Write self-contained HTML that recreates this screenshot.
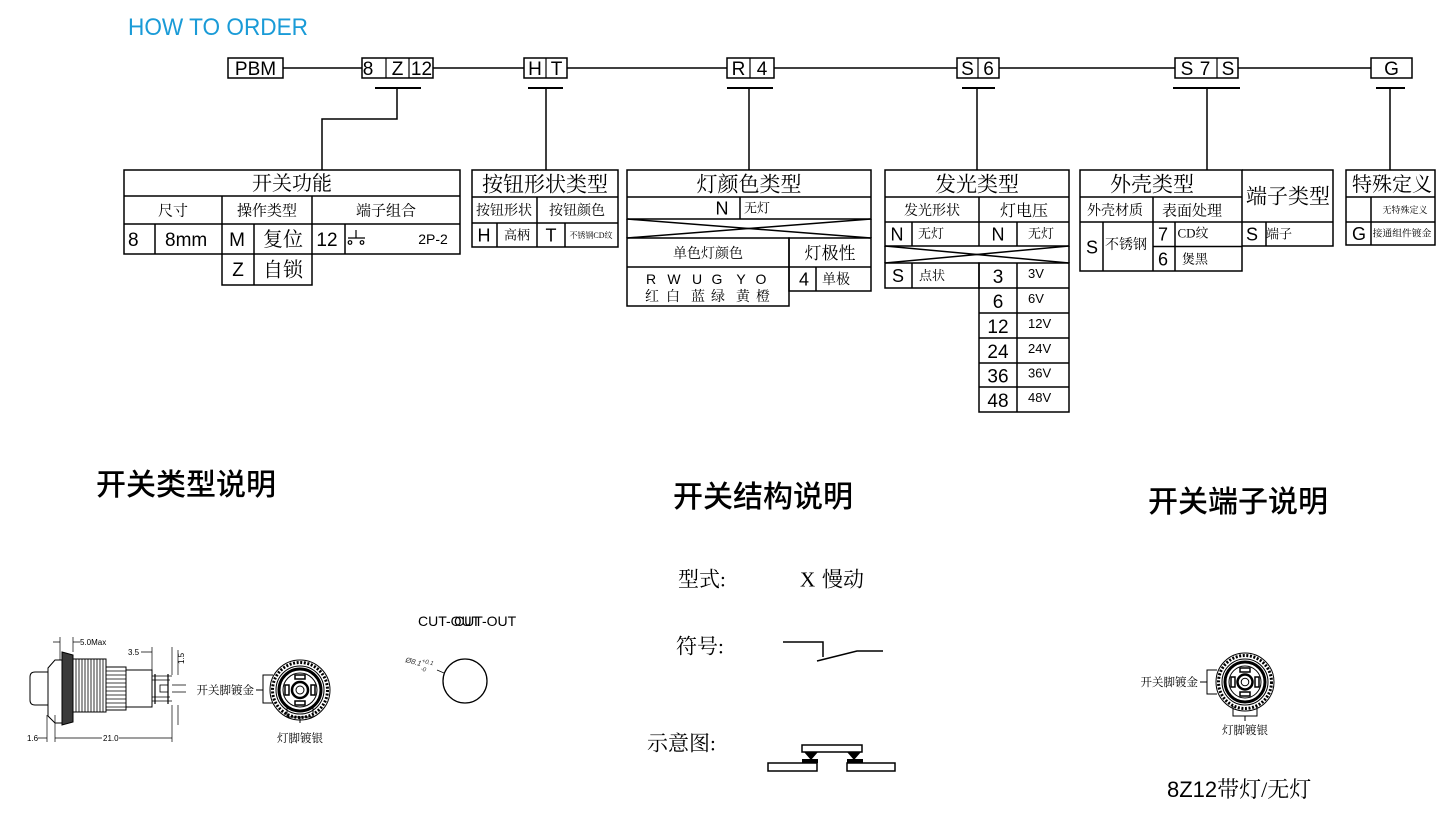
<!DOCTYPE html>
<html><head><meta charset="utf-8"><style>
html,body{margin:0;padding:0;background:#fff;}
svg{display:block;}
.s{font-family:"Liberation Sans",Arial,sans-serif;}
.c{font-family:"Liberation Serif","Noto Serif CJK SC",serif;}
.h{font-family:"Liberation Sans","Noto Sans CJK SC",sans-serif;}
</style></head><body>
<svg width="1448" height="821" viewBox="0 0 1448 821" xmlns="http://www.w3.org/2000/svg">
<rect width="1448" height="821" fill="#fff"/>
<text x="128" y="35" font-size="24" fill="#1a9bd7" class="s" textLength="180" lengthAdjust="spacingAndGlyphs">HOW TO ORDER</text>

<!-- main line -->
<g stroke="#000" stroke-width="1.5" fill="none">
<line x1="283" y1="68" x2="1371" y2="68"/>
</g>
<!-- code boxes -->
<g stroke="#000" stroke-width="1.5" fill="#fff">
<rect x="228" y="58" width="55" height="20"/>
<rect x="362" y="58" width="71" height="20"/>
<rect x="524" y="58" width="43" height="20"/>
<rect x="727" y="58" width="47" height="20"/>
<rect x="957" y="58" width="42" height="20"/>
<rect x="1175" y="58" width="63" height="20"/>
<rect x="1371" y="58" width="41" height="20"/>
</g>
<g stroke="#000" stroke-width="1.2">
<line x1="386" y1="58" x2="386" y2="78"/>
<line x1="409" y1="58" x2="409" y2="78"/>
<line x1="546" y1="58" x2="546" y2="78"/>
<line x1="750" y1="58" x2="750" y2="78"/>
<line x1="978" y1="58" x2="978" y2="78"/>
<line x1="1217" y1="58" x2="1217" y2="78"/>
</g>
<g class="s" font-size="19" text-anchor="middle">
<text x="255.5" y="75">PBM</text>
<text x="368" y="75">8</text><text x="397.5" y="75">Z</text><text x="421.5" y="75">12</text>
<text x="535" y="75">H</text><text x="556.5" y="75">T</text>
<text x="738.5" y="75">R</text><text x="762" y="75">4</text>
<text x="967.5" y="75">S</text><text x="988.5" y="75">6</text>
<text x="1187" y="75">S</text><text x="1205" y="75">7</text><text x="1228" y="75">S</text>
<text x="1391.5" y="75">G</text>
</g>

<!-- connectors -->
<g stroke="#000" fill="none">
<g stroke-width="2">
<line x1="375" y1="88" x2="421" y2="88"/>
<line x1="528" y1="88" x2="563" y2="88"/>
<line x1="727" y1="88" x2="773" y2="88"/>
<line x1="962" y1="88" x2="995" y2="88"/>
<line x1="1173" y1="88" x2="1240" y2="88"/>
<line x1="1376" y1="88" x2="1405" y2="88"/>
</g>
<g stroke-width="1.5">
<path d="M397 88 V119 H322 V170"/>
<line x1="546" y1="88" x2="546" y2="170"/>
<line x1="749" y1="88" x2="749" y2="170"/>
<line x1="977" y1="88" x2="977" y2="170"/>
<line x1="1207" y1="88" x2="1207" y2="170"/>
<line x1="1390" y1="88" x2="1390" y2="170"/>
</g>
</g>

<!-- tables -->
<g stroke="#000" stroke-width="1.5" fill="none">
<!-- T1 -->
<rect x="124" y="170" width="336" height="84"/>
<line x1="124" y1="196" x2="460" y2="196"/>
<line x1="124" y1="224" x2="460" y2="224"/>
<line x1="222" y1="196" x2="222" y2="254"/>
<line x1="312" y1="196" x2="312" y2="254"/>
<line x1="155" y1="224" x2="155" y2="254"/>
<line x1="254" y1="224" x2="254" y2="285"/>
<line x1="345" y1="224" x2="345" y2="254"/>
<path d="M222 254 V285 H312 V254"/>
<!-- T2 -->
<rect x="472" y="170" width="146" height="77"/>
<line x1="472" y1="197" x2="618" y2="197"/>
<line x1="472" y1="223" x2="618" y2="223"/>
<line x1="537" y1="197" x2="537" y2="247"/>
<line x1="497" y1="223" x2="497" y2="247"/>
<line x1="565" y1="223" x2="565" y2="247"/>
<!-- T3 -->
<rect x="627" y="170" width="244" height="49"/>
<line x1="627" y1="197" x2="871" y2="197"/>
<line x1="740" y1="197" x2="740" y2="219"/>
<line x1="627" y1="219" x2="871" y2="238"/>
<line x1="871" y1="219" x2="627" y2="238"/>
<line x1="627" y1="219" x2="627" y2="238"/>
<line x1="871" y1="219" x2="871" y2="238"/>
<rect x="627" y="238" width="162" height="68"/>
<line x1="627" y1="267" x2="789" y2="267"/>
<rect x="789" y="238" width="82" height="53"/>
<line x1="789" y1="267" x2="871" y2="267"/>
<line x1="816" y1="267" x2="816" y2="291"/>
<!-- T4 -->
<rect x="885" y="170" width="184" height="76"/>
<line x1="885" y1="197" x2="1069" y2="197"/>
<line x1="885" y1="222" x2="1069" y2="222"/>
<line x1="979" y1="197" x2="979" y2="246"/>
<line x1="912" y1="222" x2="912" y2="246"/>
<line x1="1017" y1="222" x2="1017" y2="246"/>
<line x1="885" y1="246" x2="1069" y2="263"/>
<line x1="1069" y1="246" x2="885" y2="263"/>
<line x1="1069" y1="246" x2="1069" y2="263"/>
<line x1="885" y1="246" x2="885" y2="263"/>
<rect x="885" y="263" width="94" height="25"/>
<line x1="912" y1="263" x2="912" y2="288"/>
<rect x="979" y="263" width="90" height="149"/>
<line x1="979" y1="288" x2="1069" y2="288"/>
<line x1="979" y1="313" x2="1069" y2="313"/>
<line x1="979" y1="338" x2="1069" y2="338"/>
<line x1="979" y1="363" x2="1069" y2="363"/>
<line x1="979" y1="387" x2="1069" y2="387"/>
<line x1="1017" y1="263" x2="1017" y2="412"/>
<!-- T5 -->
<rect x="1080" y="170" width="162" height="101"/>
<line x1="1080" y1="197" x2="1242" y2="197"/>
<line x1="1080" y1="222" x2="1333" y2="222"/>
<line x1="1153" y1="197" x2="1153" y2="271"/>
<line x1="1103" y1="222" x2="1103" y2="271"/>
<line x1="1175" y1="222" x2="1175" y2="271"/>
<line x1="1153" y1="246.5" x2="1242" y2="246.5"/>
<path d="M1242 170 H1333 V246 H1242"/>
<line x1="1266" y1="222" x2="1266" y2="246"/>
<!-- T6 -->
<rect x="1346" y="170" width="89" height="75"/>
<line x1="1346" y1="197" x2="1435" y2="197"/>
<line x1="1346" y1="222" x2="1435" y2="222"/>
<line x1="1371" y1="197" x2="1371" y2="245"/>
</g>

<!-- T1 text -->
<g class="c" text-anchor="middle">
<text x="292" y="190" font-size="20">开关功能</text>
<text x="173" y="215.4" font-size="15">尺寸</text>
<text x="267" y="215.4" font-size="15">操作类型</text>
<text x="386" y="215.4" font-size="15">端子组合</text>
<text x="283" y="246" font-size="20">复位</text>
<text x="283" y="276.5" font-size="20">自锁</text>
</g>
<g class="s" font-size="19">
<text x="128" y="246">8</text>
<text x="165" y="246">8mm</text>
<text x="237" y="246" text-anchor="middle">M</text>
<text x="327" y="246" text-anchor="middle">12</text>
<text x="238" y="276" text-anchor="middle">Z</text>
<text x="433" y="244" text-anchor="middle" font-size="14">2P-2</text>
</g>
<g stroke="#000" stroke-width="1.2" fill="none">
<line x1="356" y1="230" x2="356" y2="238"/>
<line x1="348" y1="238" x2="365" y2="238"/>
<circle cx="350" cy="242.5" r="1.8"/>
<circle cx="362" cy="242.5" r="1.8"/>
</g>

<!-- T2 text -->
<g class="c" text-anchor="middle">
<text x="545" y="191.6" font-size="21">按钮形状类型</text>
<text x="504" y="215" font-size="14">按钮形状</text>
<text x="577" y="215" font-size="14">按钮颜色</text>
<text x="517" y="239.7" font-size="13">高柄</text>
<text x="591" y="238" font-size="8">不锈钢CD纹</text>
</g>
<g class="s" font-size="18" text-anchor="middle">
<text x="484" y="241.5">H</text>
<text x="551" y="241.5">T</text>
</g>

<!-- T3 text -->
<g class="c" text-anchor="middle">
<text x="749" y="191.6" font-size="21">灯颜色类型</text>
<text x="757" y="212.7" font-size="13">无灯</text>
<text x="708" y="258" font-size="14">单色灯颜色</text>
<text x="830" y="259" font-size="17">灯极性</text>
<text x="836" y="284" font-size="14">单极</text>
<g font-size="14">
<text x="652" y="301">红</text><text x="673" y="301">白</text><text x="698" y="301">蓝</text>
<text x="718" y="301">绿</text><text x="743" y="301">黄</text><text x="763" y="301">橙</text>
</g>
</g>
<g class="s" text-anchor="middle">
<text x="722" y="214.5" font-size="18">N</text>
<text x="804" y="285.5" font-size="18">4</text>
<g font-size="14">
<text x="651" y="284">R</text><text x="674" y="284">W</text><text x="697" y="284">U</text>
<text x="717" y="284">G</text><text x="741" y="284">Y</text><text x="761" y="284">O</text>
</g>
</g>

<!-- T4 text -->
<g class="c" text-anchor="middle">
<text x="977" y="191.6" font-size="21">发光类型</text>
<text x="932" y="215" font-size="14">发光形状</text>
<text x="1024" y="215.8" font-size="16">灯电压</text>
<text x="931" y="238" font-size="13">无灯</text>
<text x="1041" y="238" font-size="13">无灯</text>
<text x="932" y="280" font-size="13">点状</text>
</g>
<g class="s" text-anchor="middle" font-size="18">
<text x="897" y="240.5">N</text>
<text x="998" y="240.5">N</text>
<text x="898" y="282">S</text>
</g>
<g class="s" text-anchor="middle" font-size="19">
<text x="998" y="283">3</text>
<text x="998" y="308">6</text>
<text x="998" y="333">12</text>
<text x="998" y="358">24</text>
<text x="998" y="382.5">36</text>
<text x="998" y="407">48</text>
</g>
<g class="s" font-size="13">
<text x="1028" y="278">3V</text>
<text x="1028" y="303">6V</text>
<text x="1028" y="328">12V</text>
<text x="1028" y="353">24V</text>
<text x="1028" y="377.5">36V</text>
<text x="1028" y="402">48V</text>
</g>

<!-- T5 text -->
<g class="c" text-anchor="middle">
<text x="1152" y="191.6" font-size="21">外壳类型</text>
<text x="1115" y="215" font-size="14">外壳材质</text>
<text x="1192" y="215.5" font-size="15">表面处理</text>
<text x="1126" y="249" font-size="14">不锈钢</text>
<text x="1193" y="237.7" font-size="13">CD纹</text>
<text x="1195" y="263.7" font-size="13">煲黑</text>
<text x="1288" y="203.6" font-size="21">端子类型</text>
<text x="1279" y="238.7" font-size="13">端子</text>
</g>
<g class="s" text-anchor="middle" font-size="18">
<text x="1092" y="253.5">S</text>
<text x="1163" y="240.5">7</text>
<text x="1163" y="265.5">6</text>
<text x="1252" y="240.5">S</text>
</g>

<!-- T6 text -->
<g class="c" text-anchor="middle">
<text x="1392" y="191" font-size="20">特殊定义</text>
<text x="1405" y="213" font-size="9">无特殊定义</text>
<text x="1402" y="236.5" font-size="9.8">接通组件镀金</text>
</g>
<text x="1359" y="240" class="s" font-size="18" text-anchor="middle">G</text>

<!-- section titles -->
<g class="h" font-size="30" font-weight="500">
<text x="96" y="495">开关类型说明</text>
<text x="673" y="507">开关结构说明</text>
<text x="1148" y="512">开关端子说明</text>
</g>

<!-- structure -->
<g class="c" font-size="21">
<text x="678" y="586.5">型式:</text>
<text x="800" y="586.5">X</text>
<text x="822" y="586.5">慢动</text>
<text x="676" y="653.5">符号:</text>
<text x="647" y="750.5">示意图:</text>
</g>
<g stroke="#000" stroke-width="1.5" fill="none">
<path d="M783 642 H823 V657"/>
<path d="M817 661 L857 651 H883"/>
<rect x="802" y="745" width="60" height="7" fill="#fff"/>
<rect x="768" y="763" width="49" height="8" fill="#fff"/>
<rect x="847" y="763" width="48" height="8" fill="#fff"/>
</g>
<g fill="#000">
<path d="M804 752 H818 L811 760 Z"/>
<path d="M847 752 H861 L854 760 Z"/>
<rect x="802" y="759" width="16" height="4"/>
<rect x="847" y="759" width="16" height="4"/>
</g>

<!-- left button drawing -->
<g stroke="#000" stroke-width="1" fill="#fff">
<path d="M48 672 H35 Q30 672 30 677 V700 Q30 705 35 705 H48 Z"/>
<path d="M48 668 L55 660 H62 V723 H55 L48 716 Z"/>
<rect x="73" y="659" width="33" height="53"/>
<rect x="106" y="667" width="20" height="43"/>
<rect x="126" y="670" width="26" height="37"/>
<path d="M62 652 L73 655 V722 L62 725 Z" fill="#3a3a3a"/>
</g>
<g stroke="#000" stroke-width="0.8" fill="none">
<path d="M76 659V712M79 659V712M82 659V712M85 659V712M88 659V712M91 659V712M94 659V712M97 659V712M100 659V712M103 659V712"/>
<path d="M106 671H126M106 675H126M106 679H126M106 683H126M106 687H126M106 691H126M106 695H126M106 699H126M106 703H126M106 707H126"/>
<path d="M152 676H172M152 680H170M152 697H170M152 701H172"/>
<rect x="160" y="685" width="8" height="7"/>
<path d="M155 674V704M168 674V704" stroke-width="1.2"/>
</g>
<g stroke="#000" stroke-width="0.7" fill="none">
<path d="M60 637V660M73 637V652M53 642H60M73 642H80"/>
<path d="M141 652H152M152 647V670M172 647V675M178 650V675M178 705V725M172 685H186M172 692H186"/>
<path d="M38 738H47M47 715V742M55 715V742M172 705V742M55 738H102M119 738H172"/>
</g>
<g class="s" font-size="8" fill="#000">
<text x="80" y="645">5.0Max</text>
<text x="128" y="655">3.5</text>
<text x="27" y="741">1.6</text>
<text x="103" y="741">21.0</text>
<text transform="translate(184,664) rotate(-90)">1.5</text>
</g>

<!-- circle view left -->
<g transform="translate(300,690)" stroke="#000" fill="none">
<circle r="30" stroke-width="1"/>
<circle r="27.5" stroke-width="3" stroke-dasharray="2 1.6"/>
<circle r="24" stroke-width="1"/>
<circle r="21" stroke-width="3"/>
<circle r="17" stroke-width="1"/>
<rect x="-5" y="-15" width="10" height="4" stroke-width="1.5"/>
<rect x="-5" y="11" width="10" height="4" stroke-width="1.5"/>
<rect x="-15" y="-5" width="4" height="10" stroke-width="1.5"/>
<rect x="11" y="-5" width="4" height="10" stroke-width="1.5"/>
<circle r="8" stroke-width="2.5"/>
<circle r="4" stroke-width="1"/>
</g>
<g stroke="#000" stroke-width="1" fill="none">
<path d="M273 675H263V703H273M263 690H256"/>
<path d="M287 707V717H313V707M300 717V723"/>
</g>
<g class="c" font-size="11.5">
<text x="254" y="694" text-anchor="end">开关脚镀金</text>
<text x="300" y="742" text-anchor="middle">灯脚镀银</text>
</g>

<!-- cutout -->
<g class="s" font-size="14">
<text x="418" y="626">CUT-OUT</text>
<text x="454" y="626">CUT-OUT</text>
</g>
<circle cx="465" cy="681" r="22" stroke="#000" stroke-width="1.3" fill="none"/>
<line x1="437" y1="670" x2="444" y2="673" stroke="#000" stroke-width="0.7"/>
<g class="s" font-size="7.5" font-style="italic" fill="#333" transform="rotate(15 420 664)">
<text x="405" y="666">Ø8.1</text>
<text x="421" y="662" font-size="6">+0.1</text>
<text x="422" y="670" font-size="6">-0</text>
</g>

<!-- circle view right -->
<g transform="translate(1245,682)" stroke="#000" fill="none">
<circle r="29" stroke-width="1"/>
<circle r="26.5" stroke-width="3" stroke-dasharray="2 1.6"/>
<circle r="23" stroke-width="1"/>
<circle r="20" stroke-width="3"/>
<circle r="16" stroke-width="1"/>
<rect x="-5" y="-14" width="10" height="4" stroke-width="1.5"/>
<rect x="-5" y="10" width="10" height="4" stroke-width="1.5"/>
<rect x="-14" y="-5" width="4" height="10" stroke-width="1.5"/>
<rect x="10" y="-5" width="4" height="10" stroke-width="1.5"/>
<circle r="7.5" stroke-width="2.5"/>
<circle r="3.8" stroke-width="1"/>
</g>
<g stroke="#000" stroke-width="1" fill="none">
<path d="M1217 670H1207V694H1217M1207 682H1200"/>
<path d="M1233 706V716H1257V706M1245 716V721"/>
</g>
<g class="c" font-size="11.5">
<text x="1198" y="686" text-anchor="end">开关脚镀金</text>
<text x="1245" y="734" text-anchor="middle">灯脚镀银</text>
</g>
<text x="1167" y="797" font-size="22" class="c"><tspan class="s">8Z12</tspan>带灯/无灯</text>
</svg>
</body></html>
